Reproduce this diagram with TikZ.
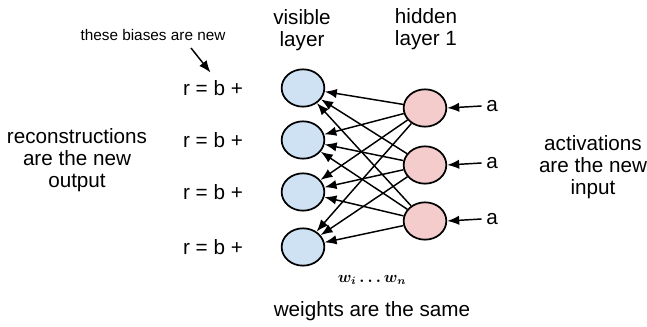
\documentclass[tikz,border=0pt]{standalone}
\usepackage{amsmath}
\usepackage{amssymb}
\usepackage{fontspec}
\setmainfont{Liberation Sans}
\usepackage{xcolor}
\usetikzlibrary{shapes.geometric,arrows.meta}
\definecolor{visblue}{HTML}{CFE2F3}
\definecolor{hidpink}{HTML}{F4CCCC}

\begin{document}
\begin{tikzpicture}[x=0.75pt,y=-0.75pt,
  font=\fontsize{15.5}{16.5}\selectfont,
  unit/.style={ellipse,draw,line width=1.3pt,minimum width=32pt,minimum height=28pt,inner sep=0pt},
  vis/.style={unit,fill=visblue},
  hid/.style={unit,fill=hidpink},
  wire/.style={-{Latex[length=9pt,width=7pt]},line width=1.1pt}]
\useasboundingbox (0,0) rectangle (647,327);

% layer titles
\node[align=center] (vtitle) at (302,30) {visible\\layer};
\node[align=center] (htitle) at (426,29) {hidden\\layer 1};

% visible layer
\foreach \i/\y in {1/88,2/140,3/192,4/247} {
  \node[vis] (v\i) at (303,\y) {};
  \node (r\i) at (213,\y) {r = b +};
}

% hidden layer
\foreach \j/\y in {1/108,2/165,3/221} {
  \node[hid] (h\j) at (425,\y) {};
  \node (a\j) at (492,\y-2) {a};
  \draw[wire] (a\j.west) -- (h\j.east);
}

% weights
\foreach \j in {1,2,3} {
  \foreach \i in {1,2,3,4} {
    \draw[wire] (h\j) -- (v\i);
  }
}

% bias note
\node[font=\fontsize{11.5}{13}\selectfont] (note) at (153,35) {these biases are new};
\coordinate (tail) at (191,48);
\draw[wire,shorten >=3pt] (tail) -- (r1.north);

% side texts
\node[align=center] (recon) at (77,160) {reconstructions\\are the new\\output};
\node[align=center] (activ) at (593,167) {activations\\are the new\\input};

% bottom texts
\node[font=\fontsize{12}{14}\selectfont] (wlab) at (372,280) {$\boldsymbol{w_i \ldots w_n}$};
\node (same) at (372,311) {weights are the same};
\end{tikzpicture}
\end{document}
